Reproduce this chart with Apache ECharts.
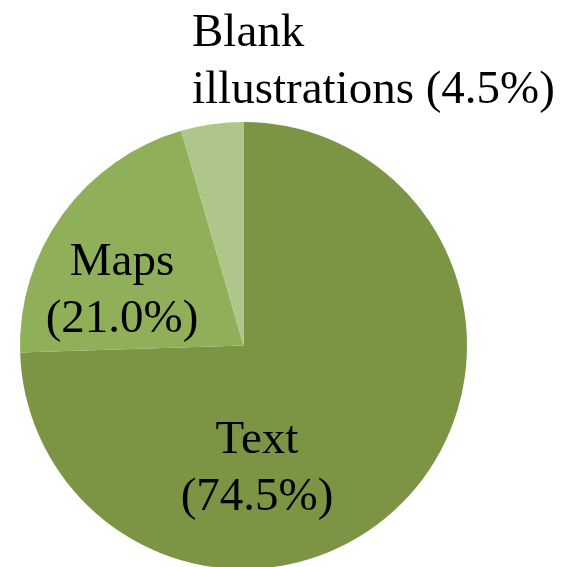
<!DOCTYPE html>
<html>
<head>
<meta charset="utf-8">
<script src="https://cdn.jsdelivr.net/npm/echarts@6/dist/echarts.min.js"></script>
<style>
  html, body { margin: 0; padding: 0; background: #fff; }
  #chart { width: 566px; height: 567px; }
</style>
</head>
<body>
<div id="chart"></div>
<script>
// slice names and shares (percent)
const categories = ['Text', 'Maps', 'Blank\nillustrations'];
const shares = [74.5, 21.0, 4.5];
const sliceColors = ['#7b9545', '#8faf58', '#aec68a'];

// where each label sits (label block anchor)
const labelSpots = [
  { x: 257, y: 469, align: 'center' },
  { x: 122, y: 291, align: 'center' },
  { x: 192, y: 62, align: 'left' },
];

const chart = echarts.init(document.getElementById('chart'));

const option = {
  animation: false,
  series: [
    {
      type: 'pie',
      center: [243.5, 345.5],
      radius: 223.5,
      startAngle: 90,
      clockwise: true,
      data: categories.map((name, i) => ({
        name: name,
        value: shares[i],
        itemStyle: { color: sliceColors[i] },
      })),
      label: {
        show: true,
        position: 'inside',
        color: '#000',
        fontFamily: 'Liberation Serif',
        fontSize: 47,
        lineHeight: 57,
        formatter: (p) => {
          const pct = '(' + p.percent.toFixed(1) + '%)';
          return p.name.indexOf('\n') >= 0 ? p.name + ' ' + pct : p.name + '\n' + pct;
        },
      },
      labelLine: { show: false },
      labelLayout: (params) => {
        const s = labelSpots[params.dataIndex];
        return { x: s.x, y: s.y, align: s.align, verticalAlign: 'middle' };
      },
      emphasis: { disabled: true },
    },
  ],
};

chart.setOption(option);
</script>
</body>
</html>
